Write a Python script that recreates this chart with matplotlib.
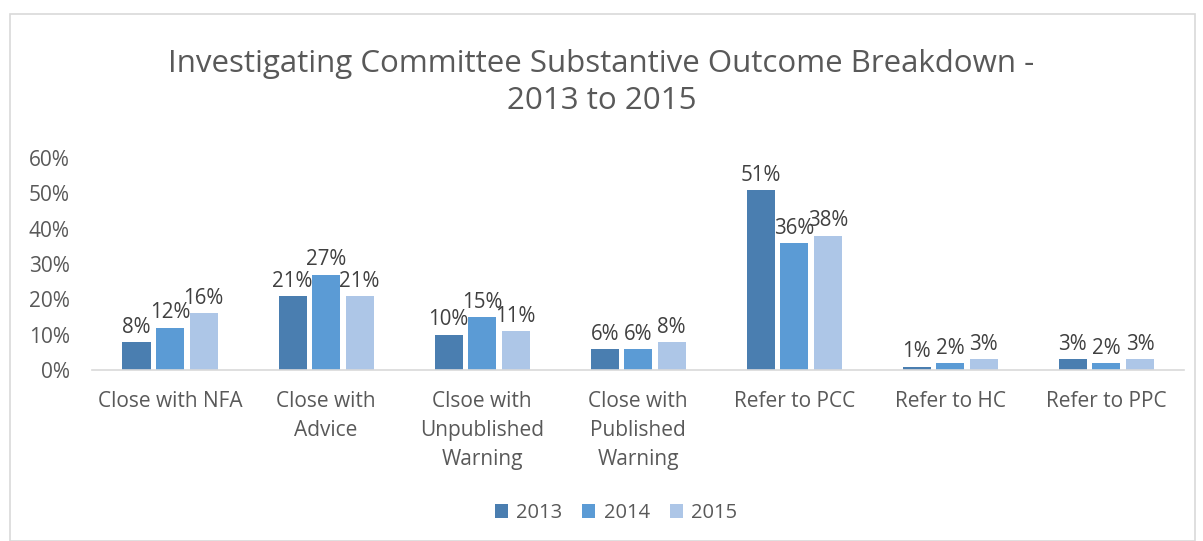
import numpy as np
import matplotlib.pyplot as plt
from matplotlib.patches import Rectangle

categories = ['Close with NFA', 'Close with\nAdvice', 'Clsoe with\nUnpublished\nWarning',
              'Close with\nPublished\nWarning', 'Refer to PCC', 'Refer to HC', 'Refer to PPC']
years = ['2013', '2014', '2015']
v2013 = [8, 21, 10, 6, 51, 1, 3]
v2014 = [12, 27, 15, 6, 36, 2, 2]
v2015 = [16, 21, 11, 8, 38, 3, 3]
colors = ['#4a7eb0', '#5b9bd5', '#adc6e7']

plt.rcParams['font.family'] = ['Open Sans', 'DejaVu Sans']

fig = plt.figure(figsize=(12.03, 5.41), dpi=100)
ax = fig.add_axes([0.0765, 0.316, 0.908, 0.392])

x = np.arange(len(categories))
w = 0.18
for i, (vals, c, lab) in enumerate(zip([v2013, v2014, v2015], colors, years)):
    pos = x + (i - 1) * 0.215
    ax.bar(pos, [v / 100 for v in vals], w, color=c, label=lab, zorder=2)
    for p, v in zip(pos, vals):
        ax.text(p, v / 100 + 0.012, f'{v}%', ha='center', va='bottom',
                fontsize=14.8, color='#404040')

ax.set_xlim(-0.5, len(categories) - 0.5)
ax.set_ylim(0, 0.6)
ax.set_yticks(np.arange(0, 0.61, 0.1))
ax.set_yticklabels([f'{int(round(t * 100))}%' for t in np.arange(0, 0.61, 0.1)])
ax.set_xticks(x)
ax.set_xticklabels(categories, linespacing=1.5)
ax.tick_params(axis='both', length=0, labelsize=15, colors='#595959')
ax.tick_params(axis='x', pad=15)
ax.tick_params(axis='y', pad=16)
for s in ['top', 'right', 'left']:
    ax.spines[s].set_visible(False)
ax.spines['bottom'].set_color('#d9d9d9')
ax.spines['bottom'].set_linewidth(1.2)

fig.text(0.5, 0.848, 'Investigating Committee Substantive Outcome Breakdown -\n2013 to 2015',
         ha='center', va='center', fontsize=22.5, color='#595959', linespacing=1.3)

fig.legend(loc='center', bbox_to_anchor=(0.512, 0.052), ncol=3, frameon=False,
           fontsize=14.5, handlelength=0.65, handleheight=0.65, columnspacing=1.0,
           handletextpad=0.4, labelcolor='#595959')

fig.patches.append(Rectangle((10 / 1203, 0), 1 - 18 / 1203, 1 - 14 / 541,
                             transform=fig.transFigure, fill=False,
                             edgecolor='#d9d9d9', linewidth=1.2))

fig.savefig('out.png', dpi=100)
